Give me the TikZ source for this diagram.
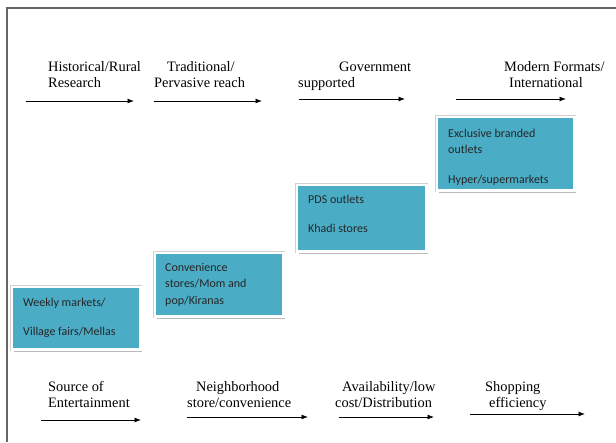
\documentclass[tikz,border=0pt]{standalone}
\usepackage{fontspec}
\setmainfont{Liberation Serif}
\newfontfamily\boxfont{Carlito}
\usetikzlibrary{arrows.meta,shadows}
\definecolor{tealbox}{RGB}{75,172,198}
\newcommand{\mylines}[1]{\begin{tabular}[t]{@{}l@{}}#1\end{tabular}}
\tikzset{
  lbl/.style={anchor=base west, inner sep=0pt, font=\fontsize{14.4}{16}\selectfont},
  boxtxt/.style={anchor=base west, inner sep=0pt, text=black!85, font=\boxfont\fontsize{12}{16.5}\selectfont},
  stagebox/.style={fill=tealbox, draw=white, line width=2.5pt, inner sep=0pt,
    preaction={draw=black!18, line width=4pt},
    drop shadow={shadow xshift=2pt, shadow yshift=-2.5pt, fill=black!45, opacity=0.6}},
  flow/.style={-{Latex[length=6.5pt,width=5pt]}, line width=0.8pt, black}
}
\begin{document}
\begin{tikzpicture}[x=1pt,y=-1pt]
\useasboundingbox (0,0) rectangle (616,442);
% frame
\draw[black!60, line width=1.2pt] (7,442) -- (7,8) -- (616,8);

% top labels
\node[lbl] (t1) at (48,71) {\mylines{Historical/Rural\\Research}};
\node[lbl] (t2) at (154,71) {\mylines{\hspace*{13pt}Traditional/\\Pervasive reach}};
\node[lbl] (t3) at (298,71) {\mylines{\hspace*{41pt}Government\\supported}};
\node[lbl] (t4) at (504,71) {\mylines{Modern Formats/\\\hspace*{5pt}International}};

% top arrows
\coordinate (a1s) at (26,101); \coordinate (a1e) at (134,101);
\coordinate (a2s) at (154,101); \coordinate (a2e) at (262,101);
\coordinate (a3s) at (299,99); \coordinate (a3e) at (405,99);
\coordinate (a4s) at (456,99); \coordinate (a4e) at (566,99);
\draw[flow] (a1s) -- (a1e);
\draw[flow] (a2s) -- (a2e);
\draw[flow] (a3s) -- (a3e);
\draw[flow] (a4s) -- (a4e);

% boxes
\node[stagebox, minimum width=128.5pt, minimum height=62.5pt] (b1) at (76,318) {};
\node[stagebox, minimum width=128.5pt, minimum height=63.5pt] (b2) at (219,284.5) {};
\node[stagebox, minimum width=129.5pt, minimum height=66.5pt] (b3) at (361.5,218) {};
\node[stagebox, minimum width=137.5pt, minimum height=73.5pt] (b4) at (505.5,153.5) {};

\node[boxtxt] (b1t) at (23,306) {\mylines{Weekly markets/\\[13pt]Village fairs/Mellas}};
\node[boxtxt] (b2t) at (165,271) {\mylines{Convenience\\stores/Mom and\\pop/Kiranas}};
\node[boxtxt] (b3t) at (308,203) {\mylines{PDS outlets\\[12.5pt]Khadi stores}};
\node[boxtxt] (b4t) at (448,137) {\mylines{Exclusive branded\\outlets\\[13.5pt]Hyper/supermarkets}};

% bottom labels
\node[lbl] (s1) at (48,391) {\mylines{Source of\\Entertainment}};
\node[lbl] (s2) at (187,391) {\mylines{\hspace*{9pt}Neighborhood\\store/convenience}};
\node[lbl] (s3) at (335,391) {\mylines{\hspace*{7pt}Availability/low\\cost/Distribution}};
\node[lbl] (s4) at (485,391) {\mylines{Shopping\\\hspace*{4pt}efficiency}};

% bottom arrows
\coordinate (c1s) at (41,420); \coordinate (c1e) at (141,420);
\coordinate (c2s) at (187,417); \coordinate (c2e) at (308,417);
\coordinate (c3s) at (339,417); \coordinate (c3e) at (434,417);
\coordinate (c4s) at (470,414); \coordinate (c4e) at (585,414);
\draw[flow] (c1s) -- (c1e);
\draw[flow] (c2s) -- (c2e);
\draw[flow] (c3s) -- (c3e);
\draw[flow] (c4s) -- (c4e);
\end{tikzpicture}
\end{document}
